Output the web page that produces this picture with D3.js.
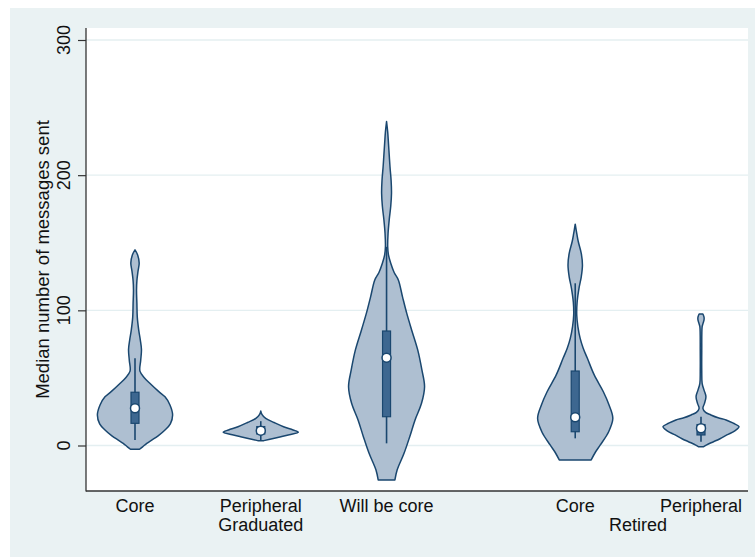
<!DOCTYPE html>
<html>
<head>
<meta charset="utf-8">
<script src="https://cdn.jsdelivr.net/npm/d3@7"></script>
<style>
  html, body { margin: 0; padding: 0; background: #ffffff; }
  svg text { font-family: "Liberation Sans", Arial, Helvetica, sans-serif; fill: #111; }
</style>
</head>
<body>
<svg id="chart" width="755" height="558"></svg>
<script>
// ---------------- DATA ----------------
const categories = ["Core", "Peripheral", "Will be core", "Core", "Peripheral"];
const groups = ["Graduated", "Graduated", "Graduated", "Retired", "Retired"];
const groupNames = ["Graduated", "Retired"];
const yTicks = [0, 100, 200, 300];
const yTitle = "Median number of messages sent";

// density profiles: [value, relative density]
const density0 = [[144.7,0],[141,0.07],[135,0.11],[129,0.08],[122,0.05],[115,0.04],[105,0.05],[95,0.06],[85,0.1],[78,0.14],[71,0.17],[63,0.15],[55,0.13],[50,0.25],[46,0.39],[40,0.62],[36,0.79],[30,0.92],[22.6,0.99],[16,0.93],[11.5,0.79],[7,0.6],[4,0.44],[1.6,0.31],[-1,0.2],[-2.8,0.12]];
const density1 = [[25.5,0],[23,0.03],[20,0.13],[17,0.35],[13.9,0.6],[11.5,0.85],[9.8,0.99],[8,0.75],[6.5,0.53],[5,0.3],[3.6,0.08]];
const density2 = [[239.7,0],[232,0.03],[223.7,0.05],[215,0.07],[206.4,0.09],[196,0.12],[186.7,0.13],[177,0.11],[167,0.07],[157,0.04],[147,0.03],[141,0.05],[134.8,0.11],[128,0.2],[122.5,0.31],[110,0.42],[97.9,0.53],[85.5,0.66],[70.7,0.82],[55.9,0.93],[43.5,1.0],[31.2,0.92],[18.9,0.75],[6.5,0.61],[-5.8,0.46],[-18,0.28],[-25.5,0.22]];
const density3 = [[163.7,0],[157,0.04],[150.9,0.08],[142,0.16],[133.6,0.19],[125,0.16],[116.4,0.1],[106,0.05],[96.6,0.04],[88,0.07],[79.3,0.13],[72,0.21],[64.5,0.32],[52.2,0.5],[39.8,0.74],[30,0.89],[20.1,0.99],[10.2,0.88],[0.4,0.66],[-5,0.53],[-10.7,0.42]];
const density4 = [[97.3,0.05],[95,0.08],[92.9,0.08],[90,0.05],[87.9,0.03],[70,0.02],[55,0.02],[46,0.03],[41,0.08],[36.1,0.13],[31,0.09],[27.5,0.05],[24.5,0.12],[22.6,0.26],[20.5,0.45],[18.9,0.66],[16.5,0.85],[13.9,1.0],[11,0.9],[7.8,0.68],[5,0.5],[2.8,0.33],[0.5,0.15],[-0.9,0.07]];
const densities = [density0, density1, density2, density3, density4];

// box summaries: [lower whisker, q1, median, q3, upper whisker]
const whiskerLo = [4, 4, 1.6, 5.3, 2.8];
const q1 = [16.4, 8.5, 21.3, 10.2, 7.8];
const medians = [27.5, 11, 65, 20.9, 12.7];
const q3 = [39.4, 14, 84.7, 55.1, 15.5];
const whiskerHi = [64.5, 18, 147, 120, 21.3];

// ---------------- LAYOUT ----------------
const svg = d3.select("#chart");
const W = 755, H = 558;
const plot = { left: 86, right: 748, top: 28, bottom: 491 };
const navy = "#1a476f";

svg.append("rect").attr("x", 10).attr("y", 8).attr("width", W - 10).attr("height", 549).attr("fill", "#eaf2f3");
svg.append("rect").attr("x", plot.left).attr("y", plot.top)
  .attr("width", plot.right - plot.left).attr("height", plot.bottom - plot.top).attr("fill", "#ffffff");

const y = d3.scaleLinear().domain([0, 300]).range([445.5, 40]);
// slot positions: groups separated by an extra half slot
const slots = categories.map((c, i) => i + groupNames.indexOf(groups[i]) * 0.5);
const x = d3.scaleLinear().domain([0, 4.5]).range([135, 701]);
const wScale = d3.scaleLinear().domain([0, 1]).range([0, 38]);

// gridlines
svg.append("g").selectAll("line").data(yTicks).join("line")
  .attr("x1", plot.left).attr("x2", plot.right)
  .attr("y1", d => y(d)).attr("y2", d => y(d))
  .attr("stroke", "#e4eff1").attr("stroke-width", 1.3);

// violins
const area = d3.area()
  .curve(d3.curveCatmullRom.alpha(0.5))
  .y(d => y(d[0]));

densities.forEach((dens, i) => {
  const cx = x(slots[i]);
  svg.append("path")
    .datum(dens)
    .attr("d", area.x0(d => cx - wScale(d[1])).x1(d => cx + wScale(d[1])))
    .attr("fill", "#aebfd1")
    .attr("stroke", navy)
    .attr("stroke-width", 1.5)
    .attr("stroke-linejoin", "round");
});

// boxes
categories.forEach((c, i) => {
  const cx = x(slots[i]);
  const g = svg.append("g");
  g.append("line").attr("x1", cx).attr("x2", cx)
    .attr("y1", y(whiskerLo[i])).attr("y2", y(whiskerHi[i]))
    .attr("stroke", navy).attr("stroke-width", 1.6);
  g.append("rect").attr("x", cx - 4).attr("width", 8)
    .attr("y", y(q3[i])).attr("height", y(q1[i]) - y(q3[i]))
    .attr("fill", "#3d6790").attr("stroke", navy).attr("stroke-width", 1.2);
  g.append("circle").attr("cx", cx).attr("cy", y(medians[i])).attr("r", 4.5)
    .attr("fill", "#ffffff").attr("stroke", navy).attr("stroke-width", 1.5);
});

// y axis ticks (no tick labels from axis; drawn rotated below)
const yAxis = d3.axisLeft(y).tickValues(yTicks).tickSize(8).tickFormat("");
const ya = svg.append("g").attr("transform", `translate(${plot.left},0)`).call(yAxis);
ya.select(".domain").remove();
ya.selectAll(".tick line").attr("stroke", "#333").attr("stroke-width", 1.2);

svg.append("g").selectAll("text").data(yTicks).join("text")
  .attr("transform", d => `translate(70,${y(d)}) rotate(-90)`)
  .attr("text-anchor", "middle")
  .style("font-size", "18px")
  .text(d3.format("d"));

svg.append("line").attr("x1", plot.left).attr("x2", plot.left).attr("y1", plot.top).attr("y2", plot.bottom + 0.5)
  .attr("stroke", "#333").attr("stroke-width", 1.3);
svg.append("line").attr("x1", plot.left).attr("x2", plot.right).attr("y1", plot.bottom).attr("y2", plot.bottom)
  .attr("stroke", "#333").attr("stroke-width", 1.3);

// category labels
svg.append("g").selectAll("text").data(categories).join("text")
  .attr("x", (d, i) => x(slots[i])).attr("y", 512)
  .attr("text-anchor", "middle").style("font-size", "18px")
  .text(d => d);

// group labels
groupNames.forEach(gname => {
  const idx = slots.filter((s, i) => groups[i] === gname);
  const cx = x(d3.mean(idx));
  svg.append("text").attr("x", cx).attr("y", 531)
    .attr("text-anchor", "middle").style("font-size", "18px").text(gname);
});

// y title
svg.append("text")
  .attr("transform", `translate(49,${(plot.top + plot.bottom) / 2}) rotate(-90)`)
  .attr("text-anchor", "middle").style("font-size", "18.5px")
  .text(yTitle);
</script>
</body>
</html>
